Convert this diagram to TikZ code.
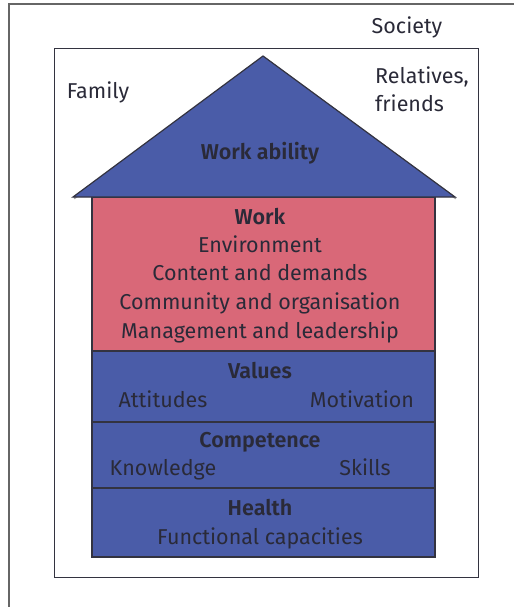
\documentclass[tikz,border=0pt]{standalone}
\usepackage{fontspec}
\setmainfont{Fira Sans}[BoldFont={Fira Sans SemiBold}]
\definecolor{hblue}{HTML}{4A5CA8}
\definecolor{hred}{HTML}{D96878}
\definecolor{txt}{HTML}{2A2A38}
\definecolor{edge}{HTML}{333340}
\begin{document}
\begin{tikzpicture}[x=1pt,y=-1pt,
  lbl/.style={text=txt,font=\fontsize{21.5}{24}\selectfont,inner sep=0pt,anchor=base},
  hd/.style={lbl,font=\fontsize{21.5}{24}\selectfont\bfseries},
  band/.style={draw=edge,line width=1.2pt}]
\useasboundingbox (0,0) rectangle (514,607);
% outer frame (society)
\draw[line width=1.2pt,draw=black!60] (9,607) -- (9,4) -- (514,4);
% inner frame
\node[draw=edge,line width=1.2pt,minimum width=424pt,minimum height=529pt,inner sep=0pt,anchor=north west] (inner) at (54,48) {};
% house body
\path[band,fill=hred] (92,197) rectangle (435,351);
\path[band,fill=hblue] (92,351) rectangle (435,422);
\path[band,fill=hblue] (92,422) rectangle (435,488);
\path[band,fill=hblue] (92,488) rectangle (435,557);
% roof
\coordinate (rl) at (73,197);
\coordinate (rt) at (263,56);
\coordinate (rr) at (455,197);
\draw[black!35,line width=2pt] ([shift={(1,1.5)}]rl) -- ([shift={(1,1.5)}]rt) -- ([shift={(1,1.5)}]rr);
\draw[draw=edge,line width=1.2pt,fill=hblue,line join=miter] (rl) -- (rt) -- (rr) -- cycle;
% texts
\node[lbl] (soc) at (407,34) {Society};
\node[lbl] (fam) at (98,99) {Family};
\node[lbl,anchor=base west] (rel) at (375,84) {Relatives,};
\node[lbl,anchor=base west] (fri) at (375,112) {friends};
\node[hd] (wa) at (260,159) {Work ability};
\node[hd] (work) at (260,224) {Work};
\node[lbl] (env) at (260,252) {Environment};
\node[lbl] (cont) at (260,280) {Content and demands};
\node[lbl] (comm) at (260,309) {Community and organisation};
\node[lbl] (man) at (260,338) {Management and leadership};
\node[hd] (val) at (260,378) {Values};
\node[lbl] (att) at (163,407) {Attitudes};
\node[lbl] (mot) at (362,407) {Motivation};
\node[hd] (comp) at (260,447) {Competence};
\node[lbl] (know) at (163,475) {Knowledge};
\node[lbl] (sk) at (365,475) {Skills};
\node[hd] (hea) at (260,515) {Health};
\node[lbl] (fun) at (260,544) {Functional capacities};
\end{tikzpicture}
\end{document}
